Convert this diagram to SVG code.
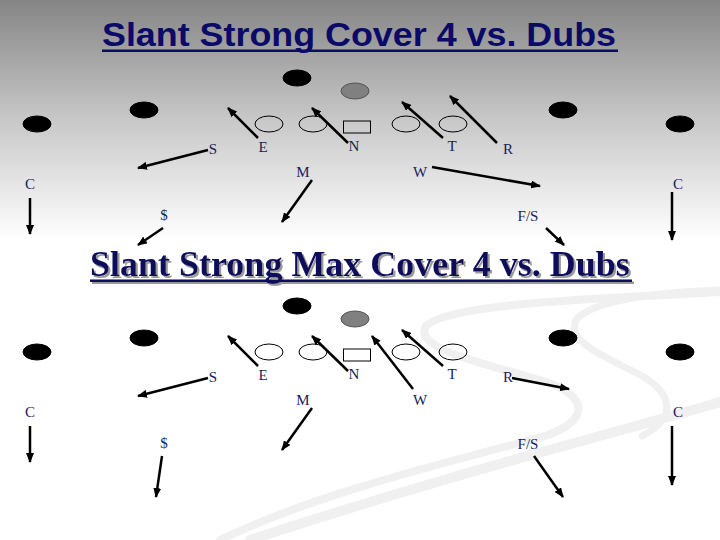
<svg xmlns="http://www.w3.org/2000/svg" width="720" height="540" viewBox="0 0 720 540">
<defs>
<linearGradient id="bg" x1="0" y1="0" x2="0" y2="240" gradientUnits="userSpaceOnUse">
<stop offset="0" stop-color="#858585"/>
<stop offset="0.5" stop-color="#c8c8c8"/>
<stop offset="1" stop-color="#ffffff"/>
</linearGradient>
<filter id="shadow" x="-5%" y="-20%" width="110%" height="140%">
<feDropShadow dx="2" dy="2" stdDeviation="0.6" flood-color="#9a9a9a" flood-opacity="1"/>
</filter>
<marker id="ah" viewBox="0 0 10 8" refX="9" refY="4" markerWidth="10" markerHeight="8" markerUnits="userSpaceOnUse" orient="auto">
<path d="M0,0 L10,4 L0,8 Z" fill="#000"/>
</marker>
<g id="formation">
<ellipse class="dark" cx="37" cy="124" rx="14" ry="8"/>
<ellipse class="dark" cx="144" cy="110" rx="14" ry="8"/>
<ellipse class="dark" cx="297" cy="78" rx="14" ry="8"/>
<ellipse class="ball" cx="355" cy="91" rx="14" ry="8"/>
<ellipse class="ol" cx="269" cy="124" rx="14" ry="8"/>
<ellipse class="ol" cx="313" cy="124" rx="14" ry="8"/>
<rect class="ol" x="343.5" y="121" width="27" height="12"/>
<ellipse class="ol" cx="406" cy="124" rx="14" ry="8"/>
<ellipse class="ol" cx="453" cy="124" rx="14" ry="8"/>
<ellipse class="dark" cx="563" cy="110" rx="14" ry="8"/>
<ellipse class="dark" cx="680" cy="124" rx="14" ry="8"/>
</g>
</defs>
<style>
.dark{fill:#000;stroke:#000;stroke-width:1}
.ball{fill:#808080;stroke:#555;stroke-width:1}
.ol{fill:none;stroke:#000;stroke-width:1}
.lbl{font-family:"Liberation Serif","Times New Roman",serif;font-size:15px;fill:#1b1b5c;text-anchor:middle}
.arr{stroke:#000;stroke-width:2.5;fill:none;marker-end:url(#ah)}
.sw{fill:none;stroke:#f0f0f0;stroke-linecap:round}
</style>
<rect x="0" y="0" width="720" height="540" fill="url(#bg)"/>
<g id="background-swooshes">
<path class="sw" stroke-width="8" d="M720 292 C620 298 450 302 426 326 C412 350 490 364 552 384 C592 400 588 426 530 440 C450 462 320 492 220 540"/>
<path class="sw" stroke-width="7" d="M720 290 C660 292 592 300 576 320 C566 342 604 356 642 376 C676 396 674 420 642 436"/>
<path class="sw" stroke-width="10" d="M720 402 C620 432 450 474 250 540"/>
</g>
<g id="title-1">
<text x="102" y="46" textLength="514" lengthAdjust="spacingAndGlyphs" font-family="'Liberation Sans',Arial,sans-serif" font-weight="bold" font-size="33" fill="#0a0a68">Slant Strong Cover 4 vs. Dubs</text>
<rect x="102" y="49.5" width="516" height="2.5" fill="#0a0a68"/>
</g>
<g id="title-2" filter="url(#shadow)">
<text x="90" y="276" font-family="'Liberation Serif','Times New Roman',serif" font-weight="bold" font-size="36" fill="#0a0a5c">Slant Strong Max Cover 4 vs. Dubs</text>
<rect x="90" y="279.5" width="542" height="2.5" fill="#0a0a5c"/>
</g>
<g id="offense-1"><use href="#formation"/></g>
<g id="offense-2"><use href="#formation" transform="translate(0,228)"/></g>
<g id="defense-1">
<g id="d1-S"><text class="lbl" x="213" y="154">S</text></g>
<g id="d1-E"><text class="lbl" x="263" y="152">E</text></g>
<g id="d1-N"><text class="lbl" x="354" y="151">N</text></g>
<g id="d1-T"><text class="lbl" x="452" y="151">T</text></g>
<g id="d1-R"><text class="lbl" x="508" y="154">R</text></g>
<g id="d1-M"><text class="lbl" x="303" y="177">M</text></g>
<g id="d1-W"><text class="lbl" x="420" y="177">W</text></g>
<g id="d1-C1"><text class="lbl" x="30" y="189">C</text></g>
<g id="d1-C2"><text class="lbl" x="678" y="189">C</text></g>
<g id="d1-D"><text class="lbl" x="164" y="220">$</text></g>
<g id="d1-FS"><text class="lbl" x="528" y="221">F/S</text></g>
</g>
<g id="defense-2">
<g id="d2-S"><text class="lbl" x="213" y="382">S</text></g>
<g id="d2-E"><text class="lbl" x="263" y="380">E</text></g>
<g id="d2-N"><text class="lbl" x="354" y="379">N</text></g>
<g id="d2-T"><text class="lbl" x="452" y="379">T</text></g>
<g id="d2-R"><text class="lbl" x="508" y="382">R</text></g>
<g id="d2-M"><text class="lbl" x="303" y="405">M</text></g>
<g id="d2-W"><text class="lbl" x="420" y="405">W</text></g>
<g id="d2-C1"><text class="lbl" x="30" y="417">C</text></g>
<g id="d2-C2"><text class="lbl" x="678" y="417">C</text></g>
<g id="d2-D"><text class="lbl" x="164" y="448">$</text></g>
<g id="d2-FS"><text class="lbl" x="528" y="449">F/S</text></g>
</g>
<g id="connectors">
<line class="arr" x1="208" y1="150" x2="138" y2="168"/>
<line class="arr" x1="258" y1="138" x2="228" y2="108"/>
<line class="arr" x1="348" y1="143" x2="312" y2="108"/>
<line class="arr" x1="443" y1="138" x2="402" y2="102"/>
<line class="arr" x1="497" y1="143" x2="450" y2="96"/>
<line class="arr" x1="432" y1="167" x2="540" y2="186"/>
<line class="arr" x1="312" y1="180" x2="282" y2="222"/>
<line class="arr" x1="30" y1="198" x2="30" y2="234"/>
<line class="arr" x1="672" y1="192" x2="672" y2="240"/>
<line class="arr" x1="163" y1="228" x2="138" y2="245"/>
<line class="arr" x1="546" y1="228" x2="564" y2="245"/>
<line class="arr" x1="208" y1="378" x2="138" y2="396"/>
<line class="arr" x1="258" y1="366" x2="228" y2="336"/>
<line class="arr" x1="348" y1="371" x2="312" y2="336"/>
<line class="arr" x1="413" y1="389" x2="372" y2="336"/>
<line class="arr" x1="443" y1="366" x2="402" y2="330"/>
<line class="arr" x1="512" y1="378" x2="569" y2="389"/>
<line class="arr" x1="312" y1="408" x2="282" y2="450"/>
<line class="arr" x1="30" y1="426" x2="30" y2="462"/>
<line class="arr" x1="672" y1="426" x2="672" y2="485"/>
<line class="arr" x1="162" y1="456" x2="156" y2="497"/>
<line class="arr" x1="534" y1="456" x2="563" y2="497"/>
</g>
</svg>
